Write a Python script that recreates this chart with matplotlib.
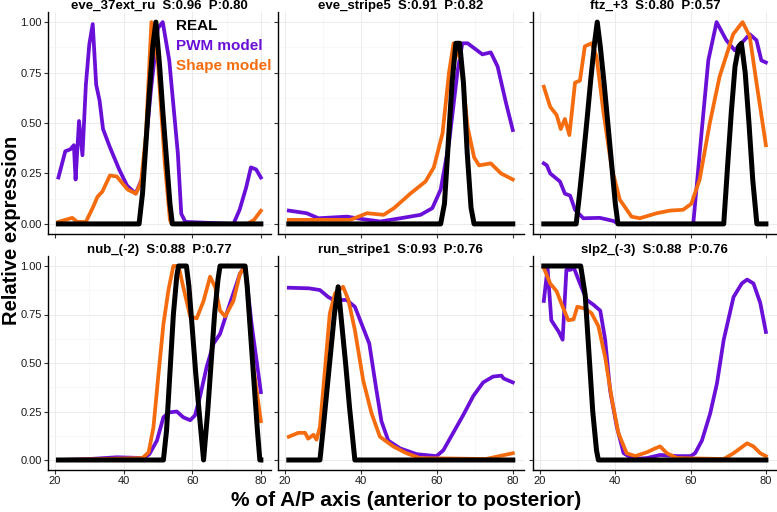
import numpy as np
import matplotlib
matplotlib.use('Agg')
import matplotlib.pyplot as plt
from matplotlib.ticker import MultipleLocator

plt.rcParams['font.family'] = ['Liberation Sans', 'DejaVu Sans']

PURPLE = '#6a0fd8'
ORANGE = '#f56c0e'

titles = ['eve_37ext_ru  S:0.96  P:0.80', 'eve_stripe5  S:0.91  P:0.82', 'ftz_+3  S:0.80  P:0.57',
          'nub_(-2)  S:0.88  P:0.77', 'run_stripe1  S:0.93  P:0.76', 'slp2_(-3)  S:0.88  P:0.76']

# panel 1: eve_37ext_ru
p1_real_x = [21, 44.5, 45.5, 46.5, 47.5, 48.5, 49.4, 50.5, 51.5, 52.5, 53.5, 54.2, 80]
p1_real_y = [0, 0, 0.15, 0.4, 0.65, 0.88, 1.0, 0.78, 0.54, 0.32, 0.1, 0, 0]
p1_pwm_x = [21, 23, 24.5, 25.5, 26, 27, 28, 29, 30, 31, 32, 33, 34, 36, 38.7, 41, 43.5, 45.5, 48, 50, 51.4,
            53.3, 55.8, 56.8, 58, 72, 73.8, 75.7, 77.1, 78.6, 80]
p1_pwm_y = [0.23, 0.36, 0.37, 0.39, 0.22, 0.51, 0.34, 0.69, 0.89, 0.99, 0.69, 0.61, 0.47, 0.38, 0.27, 0.19,
            0.15, 0.23, 0.67, 0.97, 1.0, 0.81, 0.35, 0.05, 0.01, 0.0, 0.07, 0.18, 0.28, 0.27, 0.23]
p1_shape_x = [21, 23, 25, 26.5, 29, 31, 32.4, 33.8, 36, 38, 39.7, 41.2, 43.6, 45.1, 46.5, 48.1, 50, 52,
              53.5, 54, 76, 78, 80]
p1_shape_y = [0.01, 0.02, 0.03, 0.01, 0.01, 0.08, 0.135, 0.16, 0.24, 0.235, 0.2, 0.17, 0.15, 0.21, 0.44,
              1.0, 0.8, 0.3, 0.02, 0.0, 0.0, 0.02, 0.065]

# panel 2: eve_stripe5
p2_real_x = [21, 61, 62, 63, 64, 65, 66, 67, 68, 69, 69.8, 80]
p2_real_y = [0, 0, 0.1, 0.4, 0.7, 0.895, 0.895, 0.7, 0.35, 0.08, 0, 0]
p2_pwm_x = [21, 25.7, 28.8, 36.3, 40.7, 45.1, 50.4, 55.7, 58.8, 61, 63.2, 65.4, 66.7, 68.1, 72, 74.2, 76,
            78.2, 80]
p2_pwm_y = [0.066, 0.053, 0.028, 0.036, 0.023, 0.012, 0.028, 0.045, 0.078, 0.17, 0.40, 0.75, 0.895, 0.895,
            0.84, 0.85, 0.78, 0.60, 0.465]
p2_shape_x = [21, 37.2, 41.6, 46, 48.7, 53, 57, 59.2, 61.5, 63.2, 64.4, 66.3, 68.1, 69.8, 71.1, 74.2,
              76.9, 80]
p2_shape_y = [0.02, 0.02, 0.053, 0.045, 0.078, 0.15, 0.21, 0.28, 0.45, 0.75, 0.895, 0.81, 0.48, 0.33,
              0.29, 0.30, 0.25, 0.22]

# panel 3: ftz_+3
p3_real_x = [21, 29.6, 30.5, 31.5, 32.5, 33.5, 34.5, 35.2, 36, 37, 38, 39, 40, 40.7, 68.8, 69.8, 70.8,
             71.8, 72.8, 73.5, 74.5, 75.5, 76.5, 77.6, 80]
p3_real_y = [0, 0, 0.15, 0.33, 0.52, 0.72, 0.9, 1.0, 0.88, 0.7, 0.5, 0.3, 0.1, 0, 0, 0.28, 0.55, 0.78,
             0.88, 0.895, 0.75, 0.5, 0.22, 0, 0]
p3_pwm_x = [21, 21.8, 22.7, 25.3, 26.6, 28, 29.3, 31.5, 35.9, 39.4, 41, 60.7, 62.9, 64.7, 66.9, 69.5,
            71.7, 73.5, 75.7, 77.5, 78.8, 80]
p3_pwm_y = [0.30, 0.29, 0.25, 0.21, 0.15, 0.14, 0.07, 0.028, 0.03, 0.015, 0.0, 0.0, 0.45, 0.81, 1.0,
            0.91, 0.86, 0.895, 0.94, 0.91, 0.81, 0.80]
p3_shape_x = [21, 22.7, 24.4, 25.5, 26.6, 27.8, 29.3, 30.6, 31.9, 33.7, 35, 36.8, 39, 41.2, 44.3, 46.5,
              51, 54.5, 58, 60.2, 62.4, 65.1, 67.7, 71.3, 73.8, 75.7, 77.5, 80]
p3_shape_y = [0.68, 0.58, 0.54, 0.47, 0.52, 0.44, 0.70, 0.71, 0.88, 0.895, 0.83, 0.56, 0.28, 0.12,
              0.036, 0.028, 0.053, 0.066, 0.07, 0.10, 0.22, 0.50, 0.73, 0.94, 1.0, 0.93, 0.70, 0.39]

# panel 4: nub_(-2)
p4_real_x = [21, 51.6, 52.5, 53.5, 54.5, 55.5, 56, 58.3, 59, 60, 61, 62, 63.3, 64.5, 65.5, 66.5, 67.5,
             68.1, 75.4, 76, 77, 78, 79, 79.7, 80]
p4_real_y = [0, 0, 0.15, 0.45, 0.75, 0.95, 1.0, 1.0, 0.9, 0.68, 0.45, 0.25, 0, 0.25, 0.5, 0.75, 0.93,
             1.0, 1.0, 0.9, 0.65, 0.4, 0.15, 0, 0]
p4_pwm_x = [21, 30, 38, 45.8, 47.5, 49.7, 51.6, 53.1, 55.5, 57.4, 59.4, 60.8, 62.3, 64.2, 66.2, 68.1,
            70.1, 72, 73.9, 75.4, 77.3, 80]
p4_pwm_y = [0.0, 0.005, 0.014, 0.01, 0.03, 0.10, 0.22, 0.245, 0.25, 0.22, 0.205, 0.23, 0.33, 0.48, 0.60,
            0.65, 0.76, 0.86, 0.96, 1.0, 0.70, 0.35]
p4_shape_x = [21, 45.5, 47.3, 48.7, 50.2, 51.6, 53.1, 54.5, 56, 57.4, 59.4, 61.3, 63.3, 65.2, 66.7, 68.1,
              69.6, 72, 73.9, 75.4, 77.8, 80]
p4_shape_y = [0.0, 0.01, 0.04, 0.17, 0.45, 0.70, 0.88, 1.0, 1.0, 0.89, 0.74, 0.73, 0.82, 0.945, 0.89,
              0.77, 0.74, 0.82, 0.96, 1.0, 0.48, 0.20]

# panel 5: run_stripe1
p5_real_x = [21, 29.2, 30, 31, 32, 33, 34, 35, 36, 37, 38.4, 80]
p5_real_y = [0, 0, 0.15, 0.35, 0.55, 0.75, 0.893, 0.69, 0.49, 0.27, 0, 0]
p5_pwm_x = [21, 26.3, 29.2, 31.4, 32.8, 36.2, 38.4, 40.2, 42.2, 44, 45.4, 47.2, 50.3, 54.7, 59.9, 61.7,
            64.3, 66.9, 69.6, 72.2, 74.8, 77, 77.6, 80]
p5_pwm_y = [0.888, 0.885, 0.876, 0.84, 0.825, 0.825, 0.79, 0.70, 0.60, 0.37, 0.2, 0.10, 0.06, 0.03, 0.02,
            0.05, 0.14, 0.23, 0.33, 0.40, 0.43, 0.435, 0.42, 0.40]
p5_shape_x = [21, 23.5, 25.3, 26.1, 27.5, 28.3, 29.2, 30.5, 31.8, 33.2, 35.3, 36.7, 38.4, 40.6, 42.8, 45,
              48.5, 52, 55.5, 72.9, 80]
p5_shape_y = [0.12, 0.14, 0.14, 0.11, 0.13, 0.105, 0.17, 0.46, 0.756, 0.86, 0.893, 0.825, 0.67, 0.41,
              0.24, 0.12, 0.07, 0.035, 0.01, 0.005, 0.035]

# panel 6: slp2_(-3)
p6_real_x = [21, 30.8, 32, 33, 34, 35, 35.5, 80]
p6_real_y = [1, 1, 0.85, 0.55, 0.25, 0.05, 0, 0]
p6_pwm_x = [21, 22, 23, 24, 25, 26, 27, 28, 29, 30.6, 32.4, 34.2, 36, 37.3, 38.6, 40.4, 42.2, 44.8, 48.4,
            51.9, 56.4, 60, 61.2, 63, 65.2, 67, 68.8, 71.4, 73.6, 75, 76.7, 78.5, 80]
p6_pwm_y = [0.82, 0.99, 0.72, 0.69, 0.66, 0.62, 0.98, 0.98, 0.99, 0.91, 0.825, 0.80, 0.77, 0.62, 0.36,
            0.17, 0.035, 0.005, 0.01, 0.026, 0.02, 0.02, 0.035, 0.10, 0.24, 0.395, 0.62, 0.84, 0.91, 0.93,
            0.91, 0.81, 0.66]
p6_shape_x = [21, 22.7, 24.4, 25.8, 27.5, 28.9, 29.9, 32, 33.7, 35.5, 37.3, 39.1, 40.8, 43, 45.3, 48.4,
              50.6, 51.9, 53.7, 56.4, 68.8, 71.4, 75, 76.7, 78.5, 80]
p6_shape_y = [0.99, 0.91, 0.87, 0.80, 0.72, 0.725, 0.79, 0.78, 0.756, 0.69, 0.53, 0.31, 0.14, 0.035,
              0.02, 0.04, 0.06, 0.07, 0.035, 0.01, 0.005, 0.035, 0.086, 0.07, 0.035, 0.02]

panels = [
    (p1_real_x, p1_real_y, p1_pwm_x, p1_pwm_y, p1_shape_x, p1_shape_y),
    (p2_real_x, p2_real_y, p2_pwm_x, p2_pwm_y, p2_shape_x, p2_shape_y),
    (p3_real_x, p3_real_y, p3_pwm_x, p3_pwm_y, p3_shape_x, p3_shape_y),
    (p4_real_x, p4_real_y, p4_pwm_x, p4_pwm_y, p4_shape_x, p4_shape_y),
    (p5_real_x, p5_real_y, p5_pwm_x, p5_pwm_y, p5_shape_x, p5_shape_y),
    (p6_real_x, p6_real_y, p6_pwm_x, p6_pwm_y, p6_shape_x, p6_shape_y),
]

W, H = 777, 512
fig = plt.figure(figsize=(W / 100, H / 100), dpi=100)

# panel boxes in pixels: (left, right), (top, bottom)
cols = [(48.3, 271), (277.6, 524), (532.7, 777)]
rows = [(12, 234), (256.3, 469.7)]

for k, (rx, ry, px, py, sx, sy) in enumerate(panels):
    r, c = divmod(k, 3)
    l, rr = cols[c]
    t, b = rows[r]
    ax = fig.add_axes([l / W, (H - b) / H, (rr - l) / W, (b - t) / H])
    ax.plot(px, py, color=PURPLE, lw=2.7, zorder=3)
    ax.plot(sx, sy, color=ORANGE, lw=2.7, zorder=4)
    ax.plot(rx, ry, color='black', lw=3.6, zorder=5)
    ax.set_xlim(18.05, 82.95)
    ax.set_ylim(-0.05, 1.05)
    ax.set_xticks([20, 40, 60, 80])
    ax.set_yticks([0, 0.25, 0.5, 0.75, 1.0])
    ax.xaxis.set_minor_locator(MultipleLocator(10))
    ax.yaxis.set_minor_locator(MultipleLocator(0.125))
    ax.grid(which='major', color='#ebebeb', lw=0.7, zorder=0)
    ax.grid(which='minor', color='#f4f4f4', lw=0.4, zorder=0)
    ax.set_axisbelow(True)
    ax.spines[['top', 'right']].set_visible(False)
    ax.spines[['left', 'bottom']].set_linewidth(1.0)
    ax.tick_params(which='major', length=3, width=0.8, color='#333333', pad=1.5,
                   labelsize=8, labelcolor='#1a1a1a')
    ax.tick_params(which='minor', length=0)
    if c != 0:
        ax.set_yticklabels([])
    else:
        ax.set_yticklabels(['0.00', '0.25', '0.50', '0.75', '1.00'])
    if r == 0:
        ax.set_xticklabels([])
    ax.set_title(titles[k], fontsize=9.5, fontweight='bold', pad=2)

# legend as coloured text in the first panel
fig.text(176 / W, 1 - 26 / H, 'REAL', color='black', fontsize=11, fontweight='bold', va='center')
fig.text(176 / W, 1 - 46 / H, 'PWM model', color=PURPLE, fontsize=11, fontweight='bold', va='center')
fig.text(176 / W, 1 - 66 / H, 'Shape model', color=ORANGE, fontsize=11, fontweight='bold', va='center')

fig.text(406 / W, 1 - 506 / H, '% of A/P axis (anterior to posterior)', fontsize=15, fontweight='bold',
         ha='center', va='baseline')
fig.text(12 / W, 1 - 230 / H, 'Relative expression', fontsize=14.5, fontweight='bold', rotation=90,
         ha='center', va='center')

fig.savefig('out.png', dpi=100)
